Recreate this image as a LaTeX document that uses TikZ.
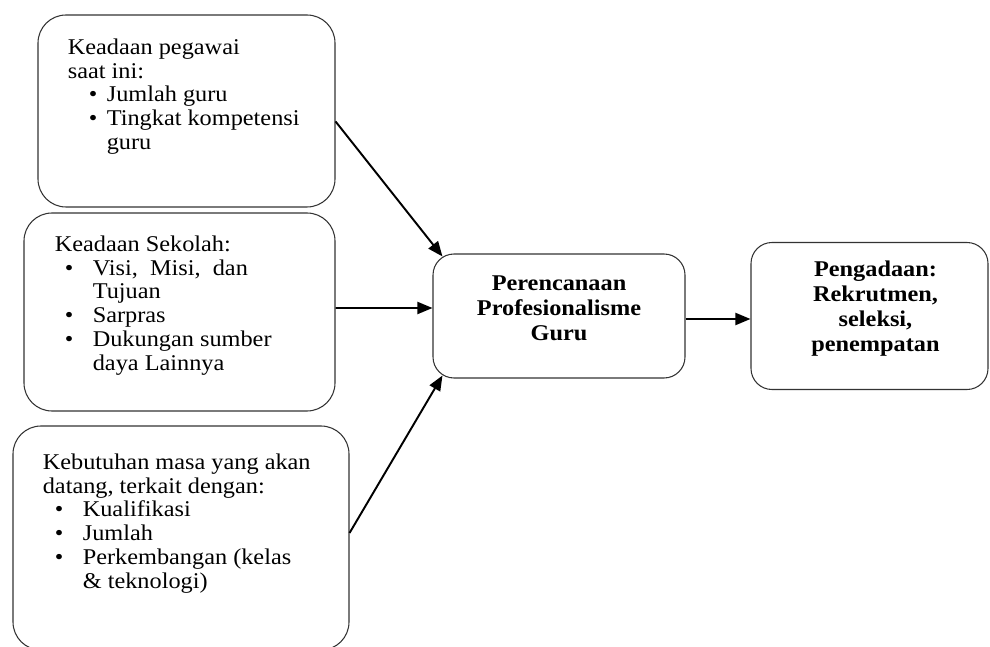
\documentclass[tikz,border=0pt]{standalone}
\usepackage{fontspec}
\setmainfont{Liberation Serif}[FakeStretch=1.08]
\usetikzlibrary{positioning,arrows.meta}

% bullet for the hand-made lists: indent, then box for the bullet
\newcommand{\blt}[2]{\hspace*{#1}\makebox[#2][l]{\textbullet}}

\begin{document}
\begin{tikzpicture}[
    every node/.style={inner sep=0pt},
    box/.style={draw=black!80,line width=0.6pt,rounded corners=0.56cm},
    midbox/.style={draw=black!80,line width=0.6pt,rounded corners=0.42cm},
    listtext/.style={align=left,font=\fontsize{12.8}{13.5}\selectfont},
    titletext/.style={align=center,font=\fontsize{12.8}{14.2}\selectfont\bfseries},
    arrow/.style={-{Triangle[length=0.3cm,width=0.24cm]},line width=1.1pt}
]
    \useasboundingbox (0,0) rectangle (19.8,-12.94);

    % left column
    \node[box,minimum width=5.94cm,minimum height=3.84cm] (pegawai) at (3.73,-2.22) {};
    \node[box,minimum width=6.22cm,minimum height=3.96cm] (sekolah) at (3.59,-6.24) {};
    \node[box,minimum width=6.72cm,minimum height=4.48cm] (kebutuhan) at (3.62,-10.76) {};

    \node[listtext,below right=0.48cm and 0.6cm of pegawai.north west] (pegawaitext)
    {Keadaan pegawai\\
     saat ini:\\
     \blt{0.42cm}{0.36cm}Jumlah guru\\
     \blt{0.42cm}{0.36cm}Tingkat kompetensi\\
     \hspace*{0.78cm}guru};
    \node[listtext,below right=0.46cm and 0.62cm of sekolah.north west] (sekolahtext)
    {Keadaan Sekolah:\\
     \blt{0.2cm}{0.56cm}Visi,~ Misi,~ dan\\
     \hspace*{0.76cm}Tujuan\\
     \blt{0.2cm}{0.56cm}Sarpras\\
     \blt{0.2cm}{0.56cm}Dukungan sumber\\
     \hspace*{0.76cm}daya Lainnya};
    \node[listtext,below right=0.56cm and 0.6cm of kebutuhan.north west] (kebutuhantext)
    {Kebutuhan masa yang akan\\
     datang, terkait dengan:\\
     \blt{0.24cm}{0.56cm}Kualifikasi\\
     \blt{0.24cm}{0.56cm}Jumlah\\
     \blt{0.24cm}{0.56cm}Perkembangan (kelas\\
     \hspace*{0.8cm}\& teknologi)};

    % middle and right
    \node[midbox,minimum width=5.04cm,minimum height=2.48cm] (rencana) at (11.18,-6.32) {};
    \node[midbox,minimum width=4.74cm,minimum height=2.94cm] (pengadaan) at (17.39,-6.32) {};

    \node[titletext] (rencanatext) at ([yshift=0.16cm]rencana.center)
    {Perencanaan\\ Profesionalisme\\ Guru};
    \node[titletext] (pengadaantext) at ([xshift=0.12cm,yshift=0.14cm]pengadaan.center)
    {Pengadaan:\\ Rekrutmen,\\ seleksi,\\ penempatan};

    % arrows
    \draw[arrow] (pegawai.-4) -- ([xshift=0.2cm,yshift=-0.06cm]rencana.north west);
    \draw[arrow] ([yshift=0.08cm]sekolah.east) -- ([yshift=0.16cm]rencana.west);
    \draw[arrow] ([yshift=0.1cm]kebutuhan.east) -- ([xshift=0.2cm,yshift=0.06cm]rencana.south west);
    \draw[arrow] ([yshift=-0.06cm]rencana.east) -- ([yshift=-0.06cm]pengadaan.west);
\end{tikzpicture}
\end{document}
